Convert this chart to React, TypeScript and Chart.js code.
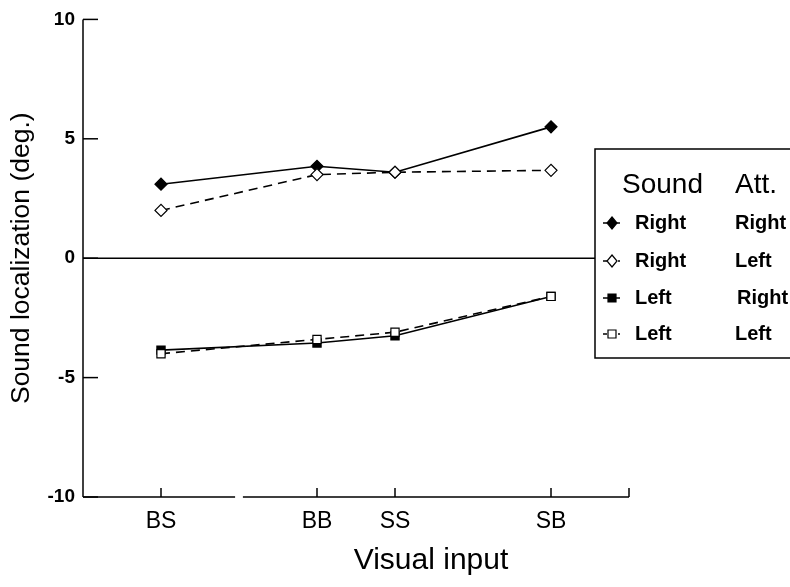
import React, { useEffect, useRef } from 'react';
import { Chart, registerables } from 'chart.js';

Chart.register(...registerables);

const categories = ['BS', 'BB', 'SS', 'SB'];
const categoryX = [0, 2, 3, 5];
const rightRight = [3.1, 3.85, 3.6, 5.5];
const rightLeft = [2.0, 3.5, 3.6, 3.68];
const leftRight = [-3.85, -3.55, -3.25, -1.6];
const leftLeft = [-4.0, -3.4, -3.1, -1.6];
const yTicks = [-10, -5, 0, 5, 10];
const legendSound = ['Right', 'Right', 'Left', 'Left'];
const legendAtt = ['Right', 'Left', 'Right', 'Left'];

const FONT = '"Liberation Sans", Arial, Helvetica, sans-serif';

const toPoints = (vals: number[]) => vals.map((v, i) => ({ x: categoryX[i], y: v }));

const axesPlugin = {
  id: 'customAxes',
  beforeDatasetsDraw(chart: any) {
    const { ctx, chartArea, scales } = chart;
    const xs = scales.x;
    const ys = scales.y;
    ctx.save();
    ctx.strokeStyle = '#000';
    ctx.lineWidth = 1.5;
    ctx.beginPath();
    ctx.moveTo(chartArea.left, chartArea.top);
    ctx.lineTo(chartArea.left, chartArea.bottom);
    ctx.stroke();
    yTicks.forEach((v) => {
      const py = ys.getPixelForValue(v);
      ctx.beginPath();
      ctx.moveTo(chartArea.left, py);
      ctx.lineTo(chartArea.left + 15, py);
      ctx.stroke();
    });
    const zy = ys.getPixelForValue(0);
    ctx.beginPath();
    ctx.moveTo(chartArea.left, zy);
    ctx.lineTo(chartArea.right, zy);
    ctx.stroke();
    const by = chartArea.bottom;
    const breakA = xs.getPixelForValue(0.95);
    const breakB = xs.getPixelForValue(1.05);
    ctx.beginPath();
    ctx.moveTo(chartArea.left, by);
    ctx.lineTo(breakA, by);
    ctx.moveTo(breakB, by);
    ctx.lineTo(chartArea.right, by);
    ctx.stroke();
    [...categoryX, xs.max].forEach((v) => {
      const px = xs.getPixelForValue(v);
      ctx.beginPath();
      ctx.moveTo(px, by);
      ctx.lineTo(px, by - 9);
      ctx.stroke();
    });
    ctx.restore();
  },
  afterDraw(chart: any) {
    const { ctx } = chart;
    ctx.save();
    ctx.fillStyle = '#000';
    ctx.font = `30px ${FONT}`;
    ctx.textAlign = 'center';
    ctx.textBaseline = 'alphabetic';
    ctx.fillText('Visual input', 431, 569);

    const lx = 595;
    const ly = 149;
    const lb = 358;
    ctx.fillStyle = '#fff';
    ctx.fillRect(lx, ly, 220, lb - ly);
    ctx.strokeStyle = '#000';
    ctx.lineWidth = 1.5;
    ctx.strokeRect(lx, ly, 220, lb - ly);

    ctx.fillStyle = '#000';
    ctx.textAlign = 'left';
    ctx.textBaseline = 'alphabetic';
    ctx.font = `28px ${FONT}`;
    ctx.fillText('Sound', 622, 193);
    ctx.fillText('Att.', 735, 193);

    const rowsY = [223, 261, 298, 334];
    const filled = [true, false, true, false];
    const diamond = [true, true, false, false];
    rowsY.forEach((ry, i) => {
      ctx.strokeStyle = '#000';
      ctx.lineWidth = 1.5;
      ctx.beginPath();
      ctx.moveTo(603, ry);
      ctx.lineTo(filled[i] ? 620 : 607, ry);
      ctx.stroke();
      if (!filled[i]) {
        ctx.beginPath();
        ctx.moveTo(618, ry);
        ctx.lineTo(620, ry);
        ctx.stroke();
      }
      ctx.beginPath();
      const cx = 612;
      if (diamond[i]) {
        ctx.moveTo(cx, ry - 6);
        ctx.lineTo(cx + 5, ry);
        ctx.lineTo(cx, ry + 6);
        ctx.lineTo(cx - 5, ry);
        ctx.closePath();
      } else {
        ctx.rect(cx - 4, ry - 4, 8, 8);
      }
      ctx.fillStyle = filled[i] ? '#000' : '#fff';
      ctx.fill();
      ctx.lineWidth = 1.2;
      ctx.stroke();
      ctx.fillStyle = '#000';
      ctx.font = `bold 20px ${FONT}`;
      ctx.textBaseline = 'middle';
      ctx.fillText(legendSound[i], 635, ry);
      ctx.fillText(legendAtt[i], i === 2 ? 737 : 735, ry);
    });
    ctx.restore();
  },
};

export default function App() {
  const canvasRef = useRef<HTMLCanvasElement | null>(null);

  useEffect(() => {
    if (!canvasRef.current) return;
    const mk = (label: string, vals: number[], style: string, filled: boolean, dashed: boolean) => ({
      label,
      data: toPoints(vals),
      borderColor: '#000',
      backgroundColor: filled ? '#000' : '#fff',
      pointBackgroundColor: filled ? '#000' : '#fff',
      pointBorderColor: '#000',
      pointBorderWidth: 1.2,
      pointStyle: style,
      pointRadius: style === 'rectRot' ? 6 : 5.8,
      borderWidth: 1.6,
      borderDash: dashed ? [9, 6] : [],
      showLine: true,
      fill: false,
      tension: 0,
    });
    const chart = new Chart(canvasRef.current, {
      type: 'line',
      data: {
        datasets: [
          mk('Right Left', rightLeft, 'rectRot', false, true),
          mk('Left Left', leftLeft, 'rect', false, true),
          mk('Right Right', rightRight, 'rectRot', true, false),
          mk('Left Right', leftRight, 'rect', true, false),
        ],
      },
      plugins: [axesPlugin],
      options: {
        animation: false,
        responsive: false,
        maintainAspectRatio: false,
        layout: { padding: { left: 0, right: 161, top: 18, bottom: 0 } },
        plugins: { legend: { display: false }, tooltip: { enabled: false } },
        scales: {
          x: {
            type: 'linear',
            min: -1,
            max: 6,
            grid: { display: false, drawTicks: false },
            border: { display: false },
            afterFit: (s: any) => { s.height = 90; },
            afterBuildTicks: (s: any) => { s.ticks = categoryX.map((v) => ({ value: v })); },
            ticks: {
              autoSkip: false,
              maxRotation: 0,
              padding: 11,
              color: '#000',
              font: { family: FONT, size: 23 },
              callback: (v: any) => {
                const i = categoryX.indexOf(Number(v));
                return i >= 0 ? categories[i] : '';
              },
            },
          },
          y: {
            type: 'linear',
            min: -10,
            max: 10,
            grid: { display: false, drawTicks: false },
            border: { display: false },
            afterFit: (s: any) => { s.width = 83; },
            afterBuildTicks: (s: any) => { s.ticks = yTicks.map((v) => ({ value: v })); },
            ticks: {
              padding: 8,
              color: '#000',
              font: { family: FONT, size: 19, weight: 'bold' },
            },
            title: {
              display: true,
              text: 'Sound localization (deg.)',
              color: '#000',
              font: { family: FONT, size: 26.5 },
              padding: { top: 6, bottom: 0 },
            },
          },
        },
      },
    } as any);
    return () => chart.destroy();
  }, []);

  return (
    <div style={{ position: 'fixed', left: 0, top: 0, width: 790, height: 587, background: '#fff' }}>
      <canvas ref={canvasRef} width={790} height={587} style={{ width: 790, height: 587 }} />
    </div>
  );
}
